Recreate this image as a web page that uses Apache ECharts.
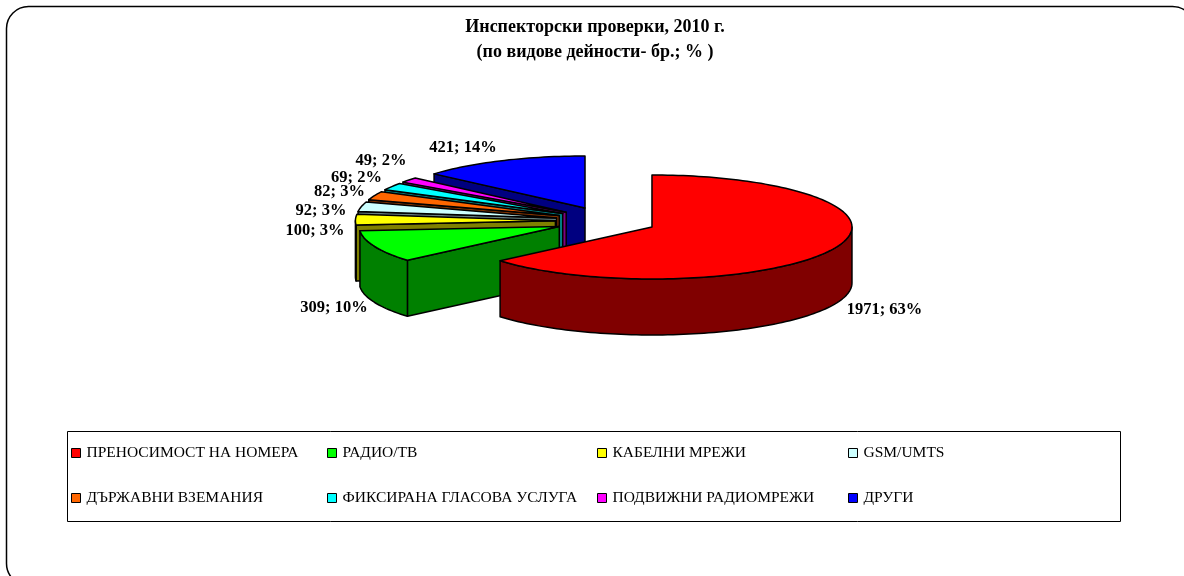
<!DOCTYPE html>
<html><head><meta charset="utf-8">
<style>html,body{margin:0;padding:0;background:#fff}#c{width:1184px;height:576px}</style>
<script src="https://cdn.jsdelivr.net/npm/echarts@6/dist/echarts.min.js"></script>
</head><body><div id="c"></div>
<script>
const categories = ['ПРЕНОСИМОСТ НА НОМЕРА','РАДИО/ТВ','КАБЕЛНИ МРЕЖИ','GSM/UMTS','ДЪРЖАВНИ ВЗЕМАНИЯ','ФИКСИРАНА ГЛАСОВА УСЛУГА','ПОДВИЖНИ РАДИОМРЕЖИ','ДРУГИ'];
const values = [1971,309,100,92,82,69,49,421];
const percentLabels = ['63%','10%','3%','3%','3%','2%','2%','14%'];
const topColors = ['#FF0000','#00FF00','#FFFF00','#CCFFFF','#FF6600','#00FFFF','#FF00FF','#0000FF'];
const sideColors = ['#800000','#008000','#808000','#668080','#803300','#008080','#800080','#000080'];

const FONT = '"Liberation Serif","Times New Roman",serif';
const CX=606, CY=221, RX=200, RY=52, DEPTH=56, EX=50.6, EY=14.3;
const labelCenters = [[884.5,310],[334,308],[315,231],[321,211],[339.5,192],[356.5,178],[381,161],[463,148]];
const legendSlots = [[71,453],[327,453],[597,453],[848,453],[71,498],[327,498],[597,498],[848,498]];

const total = values.reduce((a,b)=>a+b,0);
const rad = d=>d*Math.PI/180;
function angles(i){
  let s=0; for(let k=0;k<i;k++) s+=values[k];
  return [s/total*360,(s+values[i])/total*360];
}
function arcPts(cx,cy,a,b){
  const n=Math.max(2,Math.ceil(Math.abs(b-a)/1.5)), pts=[];
  for(let k=0;k<=n;k++){const t=rad(a+(b-a)*k/n);pts.push([cx+RX*Math.sin(t),cy-RY*Math.cos(t)]);}
  return pts;
}
function poly(points,fill){
  return {type:'polygon',shape:{points},style:{fill,stroke:'#000',lineWidth:1.5,lineJoin:'round'}};
}
function renderSlice(i){
  return function(params,api){
    const v=api.value(0);
    const [a,b]=angles(i); const m=rad((a+b)/2);
    const cx=CX+EX*Math.sin(m), cy=CY-EY*Math.cos(m);
    const pt=t=>[cx+RX*Math.sin(rad(t)),cy-RY*Math.cos(rad(t))];
    const children=[];
    if(a>180){
      const p=pt(a);
      children.push(poly([[cx,cy],p,[p[0],p[1]+DEPTH],[cx,cy+DEPTH]],sideColors[i]));
    }
    if(b>0&&b<180){
      const p=pt(b);
      children.push(poly([[cx,cy],p,[p[0],p[1]+DEPTH],[cx,cy+DEPTH]],sideColors[i]));
    }
    const wa=Math.max(a,90), wb=Math.min(b,270);
    if(wb>wa){
      const up=arcPts(cx,cy,wa,wb);
      const lo=up.map(p=>[p[0],p[1]+DEPTH]).reverse();
      children.push(poly(up.concat(lo),sideColors[i]));
    }
    children.push(poly([[cx,cy]].concat(arcPts(cx,cy,a,b)),topColors[i]));
    const lc=labelCenters[i];
    children.push({type:'text',x:lc[0],y:lc[1],z2:100,style:{
      text:v+'; '+percentLabels[i],fill:'#000',font:'bold 16.5px '+FONT,align:'center',verticalAlign:'middle'}});
    return {type:'group',children};
  };
}
// paint from the back of the pie to the front
const paintOrder=[7,6,5,4,3,2,1,0];
const series=paintOrder.map((i,k)=>({
  type:'custom',name:categories[i],coordinateSystem:'none',silent:true,z:2+k,
  itemStyle:{color:topColors[i]},
  data:[[values[i]]],renderItem:renderSlice(i),animation:false
}));
const legend=categories.map((name,i)=>({
  data:[name],left:legendSlots[i][0],top:legendSlots[i][1]-8,padding:0,orient:'horizontal',
  icon:'rect',itemWidth:9,itemHeight:9,itemGap:0,selectedMode:false,
  itemStyle:{borderColor:'#000',borderWidth:1},
  textStyle:{fontFamily:FONT,fontSize:15.5,color:'#000',padding:[0,0,0,1]},
  formatter:n=>n,height:16
}));
const chart=echarts.init(document.getElementById('c'),null,{renderer:'canvas'});
chart.setOption({
  animation:false,backgroundColor:'#fff',
  title:{text:'Инспекторски проверки, 2010 г.\n(по видове дейности- бр.; % )',left:595,top:15,padding:0,textAlign:'center',
    textStyle:{fontFamily:FONT,fontWeight:'bold',fontSize:18,color:'#000',lineHeight:25}},
  legend,series,
  graphic:[
    {type:'rect',z:-1,shape:{x:6.5,y:6.5,width:1188,height:579,r:22},style:{fill:'none',stroke:'#000',lineWidth:1.5},silent:true},
    {type:'rect',z:-1,shape:{x:67.5,y:431.5,width:1053,height:90},style:{fill:'none',stroke:'#000',lineWidth:1},silent:true}
  ]
});
</script></body></html>
